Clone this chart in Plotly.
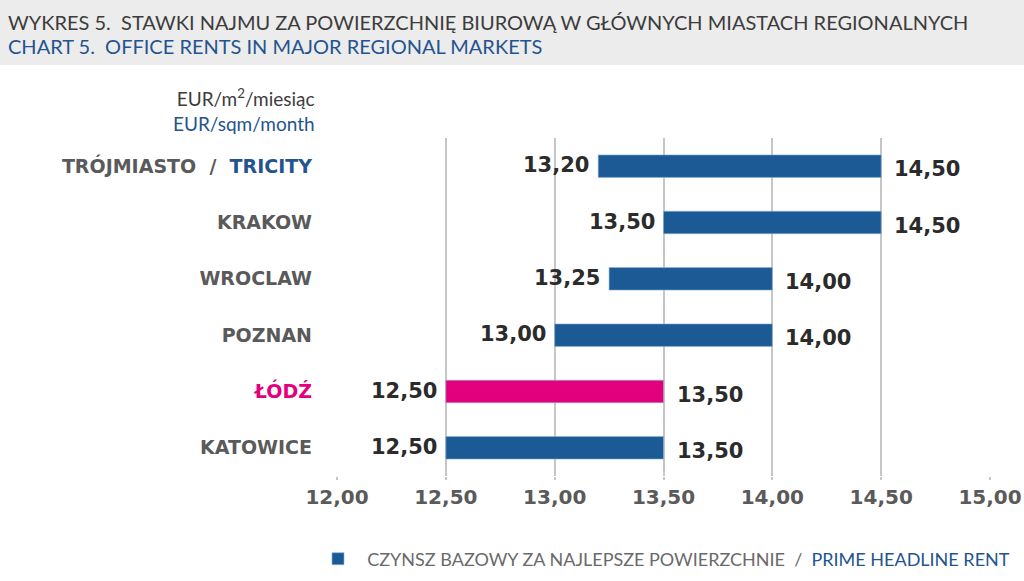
import plotly.graph_objects as go

# ---- data ----
cities = ["TRÓJMIASTO / TRICITY", "KRAKOW", "WROCLAW", "POZNAN", "ŁÓDŹ", "KATOWICE"]
rent_min = [13.20, 13.50, 13.25, 13.00, 12.50, 12.50]
rent_max = [14.50, 14.50, 14.00, 14.00, 13.50, 13.50]
x_ticks = [12.0, 12.5, 13.0, 13.5, 14.0, 14.5, 15.0]

BLUE = "#1b5a95"
MAGENTA = "#e2007d"
TXT_BLUE = "#24548f"
GRAY = "#5a5a5a"
DARK = "#2b2b2b"
BOLD_FONT = "DejaVu Sans"
THIN_FONT = "Lato"

W, H = 1024, 581
ML, MR, MT, MB = 337, 34, 138, 105

def fmt(v):
    return f"{v:.2f}".replace(".", ",")

def py(ypx):  # pixel y -> paper y
    ph = H - MT - MB
    return 1 - (ypx - MT) / ph

def px(xpx):
    pw = W - ML - MR
    return (xpx - ML) / pw

colors = [MAGENTA if c == "ŁÓDŹ" else BLUE for c in cities]

ticktext = []
for c in cities:
    if c == "TRÓJMIASTO / TRICITY":
        ticktext.append("<b>TRÓJMIASTO  /  <span style='color:%s'>TRICITY</span></b>" % TXT_BLUE)
    elif c == "ŁÓDŹ":
        ticktext.append("<b><span style='color:%s'>ŁÓDŹ</span></b>" % MAGENTA)
    else:
        ticktext.append("<b>%s</b>" % c)

fig = go.Figure()
fig.add_trace(go.Bar(
    y=cities,
    x=[b - a for a, b in zip(rent_min, rent_max)],
    base=rent_min,
    orientation="h",
    width=0.4,
    marker=dict(color=colors, line=dict(color="#8fb3d6", width=0.6)),
    name="&nbsp;&nbsp;<span style='color:#6a6a6a'>CZYNSZ BAZOWY ZA NAJLEPSZE POWIERZCHNIE  /  </span>"
         "<span style='color:%s'>PRIME HEADLINE RENT</span>" % TXT_BLUE,
    showlegend=True,
    hoverinfo="skip",
))

annotations = []
for c, a, b in zip(cities, rent_min, rent_max):
    annotations.append(dict(x=a, y=c, xref="x", yref="y", text="<b>%s</b>" % fmt(a),
                            xanchor="right", xshift=-7, yshift=1, showarrow=False,
                            font=dict(family=BOLD_FONT, size=21, color=DARK)))
    annotations.append(dict(x=b, y=c, xref="x", yref="y", text="<b>%s</b>" % fmt(b),
                            xanchor="left", xshift=11, yshift=-3, showarrow=False,
                            font=dict(family=BOLD_FONT, size=21, color=DARK)))

# title banner text
annotations.append(dict(x=px(6), y=py(22), xref="paper", yref="paper",
                        text="WYKRES 5.  STAWKI NAJMU ZA POWIERZCHNIĘ BIUROWĄ W GŁÓWNYCH MIASTACH REGIONALNYCH",
                        xanchor="left", yanchor="middle", showarrow=False,
                        font=dict(family=THIN_FONT, size=20, color="#3c3c3c")))
annotations.append(dict(x=px(6), y=py(46), xref="paper", yref="paper",
                        text="CHART 5.  OFFICE RENTS IN MAJOR REGIONAL MARKETS",
                        xanchor="left", yanchor="middle", showarrow=False,
                        font=dict(family=THIN_FONT, size=20, color=TXT_BLUE)))
# unit label
annotations.append(dict(x=px(317), y=py(110), xref="paper", yref="paper",
                        text="EUR/m<sup>2</sup>/miesiąc<br><span style='color:%s'>EUR/sqm/month</span>" % TXT_BLUE,
                        xanchor="right", yanchor="middle", align="right",
                        showarrow=False, font=dict(family=THIN_FONT, size=19, color="#3c3c3c")))

fig.update_layout(
    width=W, height=H,
    margin=dict(l=ML, r=MR, t=MT, b=MB, autoexpand=False),
    paper_bgcolor="white", plot_bgcolor="white",
    annotations=annotations,
    shapes=[dict(type="rect", xref="paper", yref="paper",
                 x0=px(0), x1=px(W), y0=py(65), y1=py(0),
                 fillcolor="#ececec", line=dict(width=0), layer="below")],
    legend=dict(orientation="h", x=px(318), y=py(559), xanchor="left", yanchor="middle",
                font=dict(family=THIN_FONT, size=18, color="#6a6a6a"),
                bgcolor="rgba(0,0,0,0)"),
    xaxis=dict(range=[12, 15], tickvals=x_ticks, automargin=False,
               ticktext=["<b>%s</b>" % fmt(v) for v in x_ticks],
               showgrid=True, gridcolor="#c6c6c6", gridwidth=1.5,
               zeroline=False, showline=False,
               ticks="outside", ticklen=3, tickcolor="#c6c6c6", tickwidth=1.5,
               tickfont=dict(family=BOLD_FONT, size=20, color=GRAY)),
    yaxis=dict(categoryorder="array", categoryarray=cities, autorange="reversed",
               tickvals=cities, ticktext=ticktext, automargin=False,
               showgrid=False, zeroline=False, showline=False,
               ticklabelstandoff=24,
               tickfont=dict(family=BOLD_FONT, size=19, color=GRAY)),
)

fig.write_html("out.html", config={"displayModeBar": False},
               post_script="document.body.style.margin='0';")
